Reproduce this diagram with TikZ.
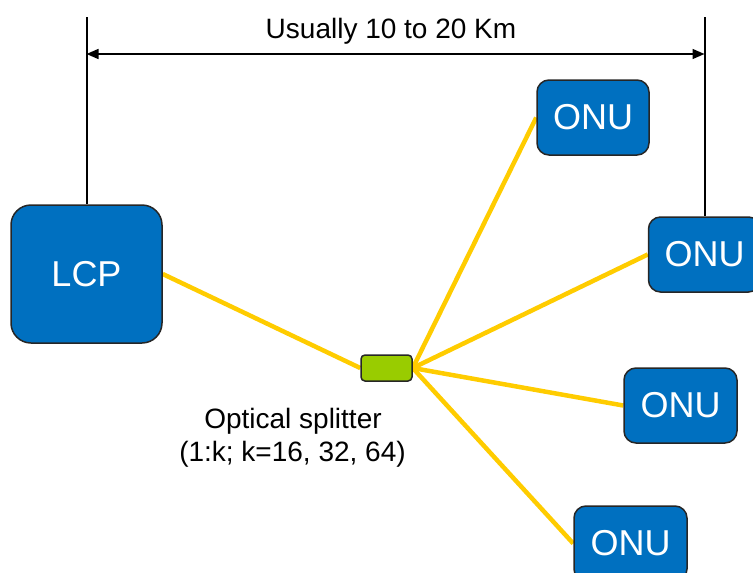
\documentclass[tikz,border=0pt]{standalone}
\usepackage{fontspec}
\setmainfont{Liberation Sans}
\usetikzlibrary{arrows.meta}
\definecolor{boxblue}{HTML}{0070C0}
\definecolor{fibreyellow}{HTML}{FFCC00}
\definecolor{splitgreen}{HTML}{99CC00}
\pgfdeclarelayer{background}
\pgfsetlayers{background,main}
\begin{document}
\begin{tikzpicture}[x=1pt,y=-1pt,
  unit/.style={draw=black!85, line width=1.5pt, fill=boxblue, rounded corners=12pt,
    text=white, font=\fontsize{36}{40}\selectfont, inner sep=0pt,
    minimum width=112pt, minimum height=75pt},
  splitbox/.style={draw=black!85, line width=1.5pt, fill=splitgreen, rounded corners=4pt,
    minimum width=51pt, minimum height=26pt, inner sep=0pt},
  fibre/.style={draw=fibreyellow, line width=4.5pt},
  dimline/.style={draw=black, line width=2pt},
  label/.style={font=\fontsize{28}{33}\selectfont, inner sep=0pt, align=center}]
\useasboundingbox (0,0) rectangle (753,573);
\clip (0,0) rectangle (753,573);

% equipment
\node[unit, minimum width=151pt, minimum height=138pt, rounded corners=20pt] (lcp) at (86.5,274) {LCP};
\node[unit] (onu1) at (593,117.5) {ONU};
\node[unit] (onu2) at (704.5,254.5) {ONU};
\node[unit, minimum width=113pt] (onu3) at (680.5,405.5) {ONU};
\node[unit, minimum width=113pt] (onu4) at (630.5,543.5) {ONU};
\node[splitbox] (split) at (386.5,368) {};

% fibre links, kept behind the boxes
\begin{pgfonlayer}{background}
\path[fibre] (lcp.east) -- (split.west);
\path[fibre] (split.east) -- (onu1.west);
\path[fibre] (split.east) -- (onu2.west);
\path[fibre] (split.east) -- (onu3.west);
\path[fibre] (split.east) -- (onu4.west);
\end{pgfonlayer}

% span dimension
\coordinate (ltop) at (86.5,17);
\coordinate (rtop) at (704.5,17);
\coordinate (larr) at (86.5,54);
\coordinate (rarr) at (704.5,54);
\path[dimline] (ltop) -- (lcp.north);
\path[dimline] (rtop) -- (onu2.north);
\path[dimline, line width=1.5pt, {Triangle[length=12pt,width=10pt]}-{Triangle[length=12pt,width=10pt]}] (larr) -- (rarr);
\node[label, anchor=base] (span) at (391,38) {Usually 10 to 20 Km};

% splitter caption
\node[label, anchor=base] (cap1) at (293,428) {Optical splitter};
\node[label, anchor=base] (cap2) at (292.5,461) {(1:k; k=16, 32, 64)};
\end{tikzpicture}
\end{document}
